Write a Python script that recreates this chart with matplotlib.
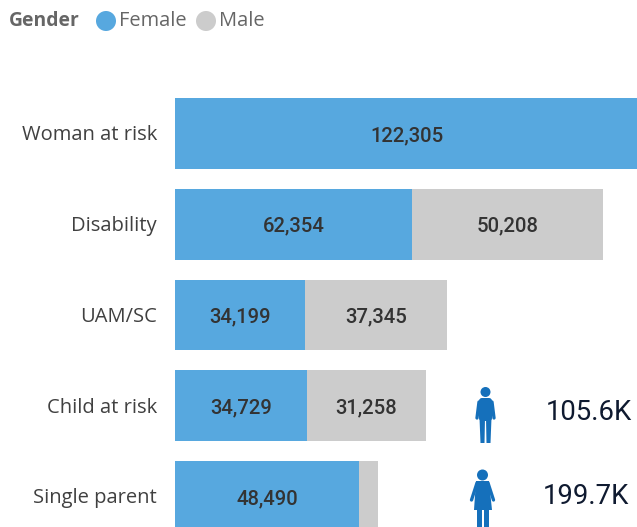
import matplotlib
matplotlib.use('Agg')
import matplotlib.pyplot as plt
from matplotlib.patches import Circle, Polygon, FancyBboxPatch

categories = ['Woman at risk', 'Disability', 'UAM/SC', 'Child at risk', 'Single parent']
female = [122305, 62354, 34199, 34729, 48490]
male = [0, 50208, 37345, 31258, 5000]
male_labels = ['', '50,208', '37,345', '31,258', '']
female_labels = ['122,305', '62,354', '34,199', '34,729', '48,490']
male_total = '105.6K'
female_total = '199.7K'

BLUE = '#57a8df'
GREY = '#cccccc'
ICON = '#1570bb'
W, H = 637, 527

fig = plt.figure(figsize=(W / 100, H / 100), dpi=100, facecolor='white')

# 条形图区域,左边从 x=175 开始
ax = fig.add_axes([175 / W, 0, (W - 175) / W, 1])
ax.set_xlim(0, (W - 175) / 0.0038)
ax.set_ylim((H - 133.5) / 90.75, -133.5 / 90.75)
ax.axis('off')

y = list(range(len(categories)))
ax.barh(y, female, height=0.782, color=BLUE)
ax.barh(y, male, height=0.782, left=female, color=GREY)

for i, name in enumerate(categories):
    ax.annotate(name, (0, i), xytext=(-18, -2), textcoords='offset pixels', ha='right',
                va='center', fontsize=14.5, family='Open Sans', color='#404040')
    if female_labels[i]:
        ax.annotate(female_labels[i], (female[i] / 2, i), xytext=(0, -2), textcoords='offset pixels',
                    ha='center', va='center', fontsize=14.6, family='Roboto', weight='medium', color='#333333')
    if male_labels[i]:
        ax.annotate(male_labels[i], (female[i] + male[i] / 2, i), xytext=(0, -2), textcoords='offset pixels',
                    ha='center', va='center', fontsize=14.6, family='Roboto', weight='medium', color='#333333')

# 图层:像素坐标,用来画图例和人形图标
ov = fig.add_axes([0, 0, 1, 1])
ov.set_xlim(0, W)
ov.set_ylim(H, 0)
ov.axis('off')
ov.patch.set_alpha(0)

ov.text(9, 21, 'Gender', fontsize=13.9, family='Open Sans', weight='bold', color='#666666', va='center')
ov.add_patch(Circle((106, 21), 10, color=BLUE, lw=0))
ov.text(119, 21, 'Female', fontsize=14.4, family='Open Sans', color='#666666', va='center')
ov.add_patch(Circle((206, 21), 10, color=GREY, lw=0))
ov.text(219, 21, 'Male', fontsize=14.4, family='Open Sans', color='#666666', va='center')

# 男性图标
ov.add_patch(Circle((485.5, 392), 5, color=ICON, lw=0))
ov.add_patch(FancyBboxPatch((479, 398), 13, 23, boxstyle='round,pad=0,rounding_size=3', color=ICON, lw=0))
ov.plot([479, 477], [402, 418], color=ICON, lw=2.4, solid_capstyle='round')
ov.plot([492, 494], [402, 418], color=ICON, lw=2.4, solid_capstyle='round')
ov.add_patch(Polygon([(479.5, 418), (485, 418), (484.5, 443), (480.5, 443)], color=ICON, lw=0))
ov.add_patch(Polygon([(486, 418), (491.5, 418), (490.5, 443), (486.5, 443)], color=ICON, lw=0))

# 女性图标
ov.add_patch(Circle((482.5, 475), 5.5, color=ICON, lw=0))
ov.add_patch(Polygon([(476, 481), (489, 481), (492, 510), (474, 510)], color=ICON, lw=0))
ov.plot([477, 471.5], [483, 500], color=ICON, lw=2.4, solid_capstyle='round')
ov.plot([488, 493.5], [483, 500], color=ICON, lw=2.4, solid_capstyle='round')
ov.add_patch(Polygon([(477, 509), (482, 509), (482, 527), (477, 527)], color=ICON, lw=0))
ov.add_patch(Polygon([(483.5, 509), (488.5, 509), (488.5, 527), (483.5, 527)], color=ICON, lw=0))

ov.text(632.5, 413, male_total, ha='right', va='center', fontsize=19.8, family='Roboto',
        color='#0f1a30')
ov.text(629, 497, female_total, ha='right', va='center', fontsize=19.8, family='Roboto',
        color='#0f1a30')

fig.savefig('out.png', dpi=100)
